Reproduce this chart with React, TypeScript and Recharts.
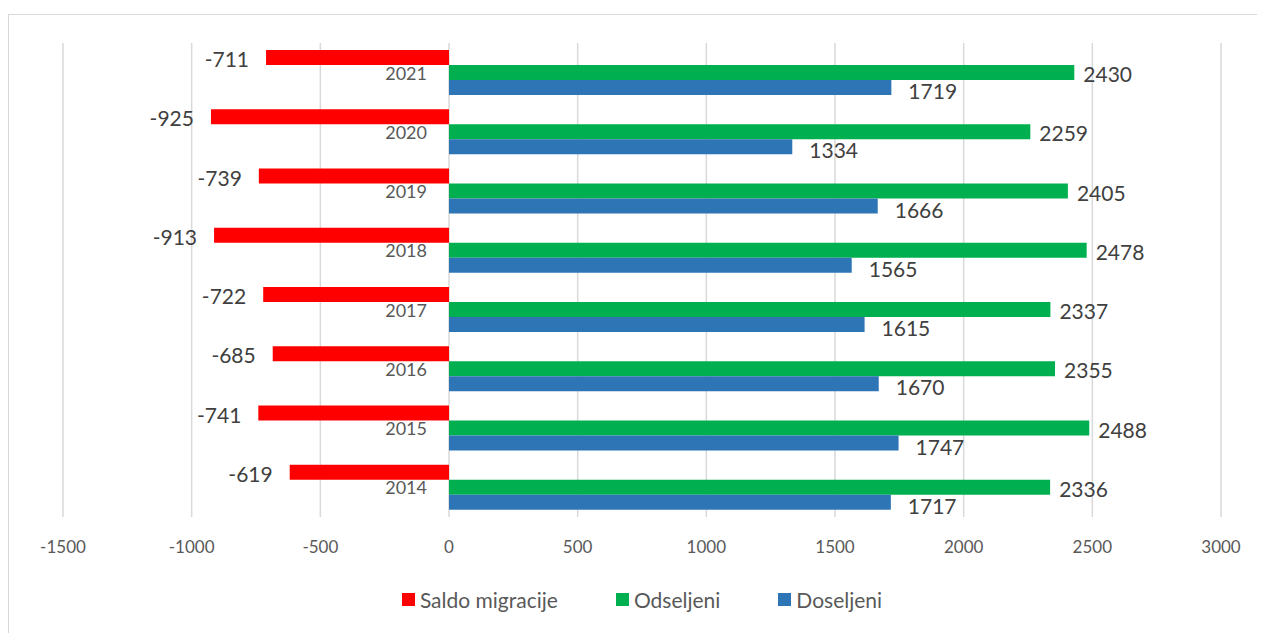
import { BarChart, Bar, XAxis, YAxis, CartesianGrid, LabelList, Legend } from 'recharts';

const years = ['2021', '2020', '2019', '2018', '2017', '2016', '2015', '2014'];
const saldo = [-711, -925, -739, -913, -722, -685, -741, -619];
const odseljeni = [2430, 2259, 2405, 2478, 2337, 2355, 2488, 2336];
const doseljeni = [1719, 1334, 1666, 1565, 1615, 1670, 1747, 1717];
const xTicks = [-1500, -1000, -500, 0, 500, 1000, 1500, 2000, 2500, 3000];

const FONT = 'Lato, "Open Sans", sans-serif';
const TEXT = '#404040';

const data = years.map((year, i) => ({
  year,
  saldo: saldo[i],
  odseljeni: odseljeni[i],
  doseljeni: doseljeni[i],
}));

const legendItems = [
  { name: 'Saldo migracije', color: '#ff0000' },
  { name: 'Odseljeni', color: '#00b050' },
  { name: 'Doseljeni', color: '#2e75b6' },
];

// category name drawn beside the zero line, under the red bar
const YearLabel = (props: any) => {
  const { x, y, width, height, value } = props;
  const zeroX = Math.max(x, x + width);
  return (
    <text x={zeroX - 22} y={y + height * 1.5} textAnchor="end" dominantBaseline="central"
      fill="#595959" fontSize={18} fontFamily={FONT}>
      {value}
    </text>
  );
};

const SideLabel = (props: any) => {
  const { x, y, width, height, value, side, gap, dy } = props;
  const end = side === 'left' ? Math.min(x, x + width) : Math.max(x, x + width);
  return (
    <text x={side === 'left' ? end - gap : end + gap} y={y + height / 2 + dy}
      textAnchor={side === 'left' ? 'end' : 'start'} dominantBaseline="central"
      fill={TEXT} fontSize={21} fontFamily={FONT}>
      {value}
    </text>
  );
};

const LegendContent = () => (
  <div style={{ display: 'flex', justifyContent: 'center', gap: 58, fontFamily: FONT, fontSize: 21, color: '#595959' }}>
    {legendItems.map((it) => (
      <div key={it.name} style={{ display: 'flex', alignItems: 'center', gap: 5 }}>
        <span style={{ width: 13, height: 13, background: it.color, display: 'inline-block' }} />
        <span>{it.name}</span>
      </div>
    ))}
  </div>
);

export default function App() {
  return (
    <div style={{ marginTop: 6, width: 1250, height: 620, border: '1px solid #d9d9d9', background: '#fff', boxSizing: 'border-box' }}>
      <BarChart width={1248} height={618} data={data} layout="vertical"
        margin={{ top: 28, right: 36, bottom: 21, left: 54 }} barGap={0}>
        <CartesianGrid horizontal={false} stroke="#d9d9d9" strokeWidth={1.5} />
        <XAxis type="number" domain={[-1500, 3000]} ticks={xTicks} axisLine={false} tickLine={false}
          tickMargin={18} height={70} interval={0}
          tick={{ fill: '#595959', fontSize: 17, fontFamily: FONT }} />
        <YAxis type="category" dataKey="year" hide />
        <Legend verticalAlign="bottom" content={<LegendContent />} />
        <Bar dataKey="saldo" name="Saldo migracije" fill="#ff0000" barSize={15} isAnimationActive={false}>
          <LabelList dataKey="saldo" content={(p: any) => <SideLabel {...p} side="left" gap={17} dy={1} />} />
          <LabelList dataKey="year" content={(p: any) => <YearLabel {...p} />} />
        </Bar>
        <Bar dataKey="odseljeni" name="Odseljeni" fill="#00b050" barSize={15} isAnimationActive={false}>
          <LabelList dataKey="odseljeni" content={(p: any) => <SideLabel {...p} side="right" gap={9} dy={1} />} />
        </Bar>
        <Bar dataKey="doseljeni" name="Doseljeni" fill="#2e75b6" barSize={15} isAnimationActive={false}>
          <LabelList dataKey="doseljeni" content={(p: any) => <SideLabel {...p} side="right" gap={17} dy={3} />} />
        </Bar>
      </BarChart>
    </div>
  );
}
